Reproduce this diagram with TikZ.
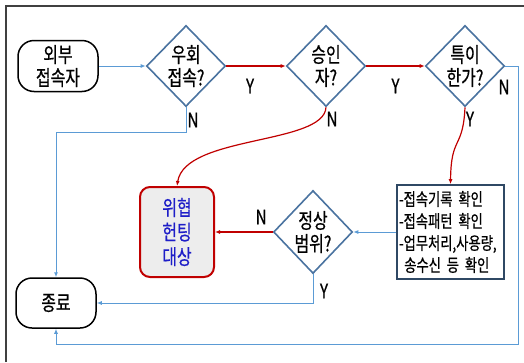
\documentclass[tikz,border=0pt]{standalone}
\usepackage{fontspec}
\newfontfamily\kr[FakeStretch=0.76,FakeBold=0.6]{Noto Sans CJK KR}
\usetikzlibrary{shapes.geometric,arrows.meta}
\definecolor{dblue}{RGB}{74,115,160}
\definecolor{lblue}{RGB}{91,155,213}
\definecolor{hred}{RGB}{192,0,0}
\definecolor{slate}{RGB}{47,72,100}
\definecolor{tblue}{RGB}{30,30,200}

\begin{document}
\begin{tikzpicture}[x=1pt,y=-1pt,
    every node/.style={font=\kr\fontsize{21}{23}\selectfont,align=center,inner sep=0pt},
    term/.style={draw,line width=1.5pt,rounded corners=16pt,minimum width=80pt,minimum height=51pt},
    ask/.style={draw=dblue,line width=1.6pt,diamond,minimum width=79pt,minimum height=81pt},
    lbl/.style={font=\kr\fontsize{20}{20}\selectfont},
    redarr/.style={draw=hred,line width=1.2pt,-{Latex[length=5pt,width=4pt]}},
    bluearr/.style={draw=lblue,line width=1pt,-{Latex[length=5pt,width=4pt]}}]
    \useasboundingbox (0,0) rectangle (524,362);
    % frame
    \draw[black!75,line width=1.6pt] (6,362) -- (6,6) -- (524,6);
    % nodes
    \node[term] (start) at (58,66) {외부\\접속자};
    \node[ask] (q1) at (186,66) {우회\\접속?};
    \node[ask] (q2) at (326,66) {승인\\자?};
    \node[ask] (q3) at (465,66) {특이\\한가?};
    \node[draw=slate,line width=1.6pt,minimum width=107pt,minimum height=94pt,
          text width=103pt,align=left,font=\kr\fontsize{17.5}{22}\selectfont] (chk) at (450.5,232)
          {-접속기록 확인\\-접속패턴 확인\\-업무처리,사용량,\\\hspace{0.3em}송수신 등 확인};
    \node[ask,minimum height=83pt] (q4) at (313,232) {정상\\범위?};
    \node[draw=hred,line width=2pt,fill=black!7,rounded corners=10pt,minimum width=74pt,
          minimum height=90pt,text=tblue,font=\kr\fontsize{21}{24.5}\selectfont] (hunt) at (177,232) {위협\\헌팅\\대상};
    \node[term,minimum height=50pt] (stop) at (56,303) {종료};
    % connectors
    \path (start) edge[bluearr] (q1)
          (chk) edge[bluearr] (q4)
          (q1) edge[redarr] node[lbl,below=12pt,pos=0.4] {Y} (q2)
          (q2) edge[redarr] node[lbl,below=12pt,pos=0.5] {Y} (q3)
          (q4) edge[redarr] node[lbl,above=7pt,pos=0.2] {N} (hunt);
    \draw[bluearr] (q1.south) -- ++(0,25) -| (stop.north);
    \draw[bluearr] (q4.south) |- (stop.east);
    \draw[bluearr] (q3.east) -- ++(13,0) -- ++(0,278) -| (stop.south);
    \draw[redarr] (q2.south) .. controls (324,145) and (185,135) .. (hunt.north);
    \draw[redarr] (q3.south) .. controls (463,150) and (451,135) .. (chk.north);
    % labels
    \node[lbl] at (193,120) {N};
    \node[lbl] at (332,119) {N};
    \node[lbl] at (470,119) {Y};
    \node[lbl] at (504,87) {N};
    \node[lbl] at (324,291) {Y};
\end{tikzpicture}
\end{document}
